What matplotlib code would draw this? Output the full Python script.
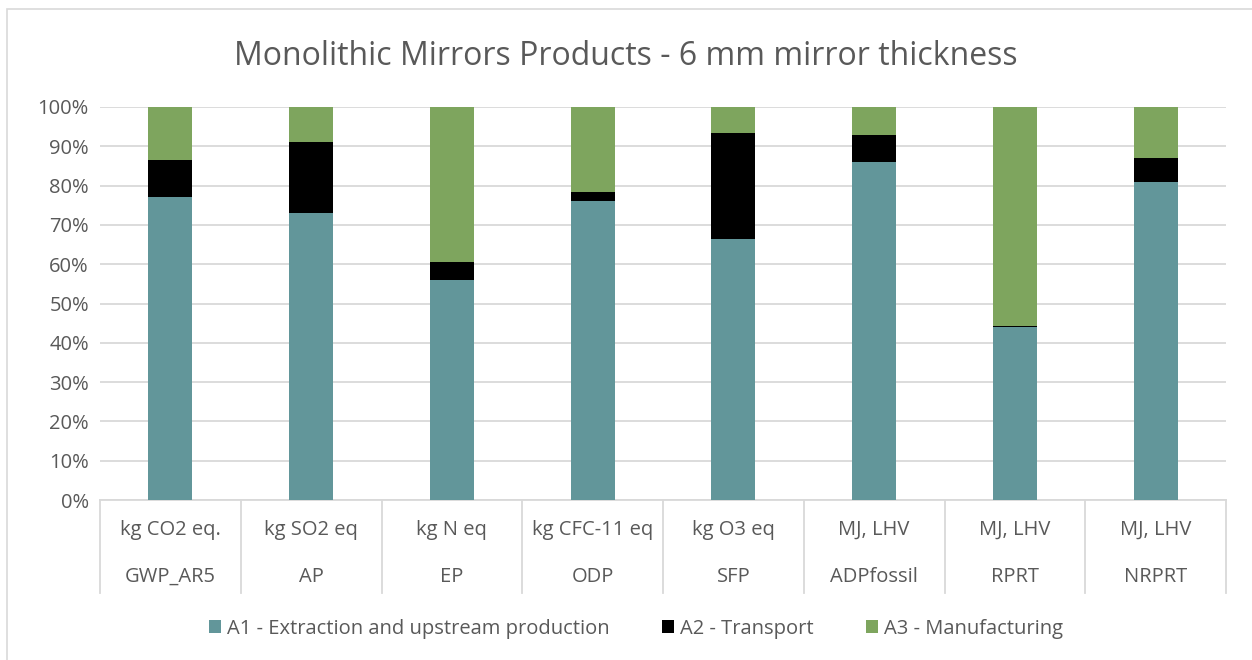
import numpy as np
import matplotlib
matplotlib.use("Agg")
import matplotlib.pyplot as plt
from matplotlib.patches import Rectangle

indicators = ["GWP_AR5", "AP", "EP", "ODP", "SFP", "ADPfossil", "RPRT", "NRPRT"]
units = ["kg CO2 eq.", "kg SO2 eq", "kg N eq", "kg CFC-11 eq", "kg O3 eq",
         "MJ, LHV", "MJ, LHV", "MJ, LHV"]
a1 = [77.0, 73.0, 56.0, 76.0, 66.5, 86.0, 44.0, 81.0]
a2 = [9.5, 18.0, 4.5, 2.3, 27.0, 7.0, 0.2, 6.0]
a3 = [13.5, 9.0, 39.5, 21.7, 6.5, 7.0, 55.8, 13.0]
series = ["A1 - Extraction and upstream production", "A2 - Transport", "A3 - Manufacturing"]
colors = ["#62969A", "#000000", "#7EA55E"]

plt.rcParams["font.family"] = ["Open Sans", "DejaVu Sans"]
txt = "#595959"
fs = 14.5

fig = plt.figure(figsize=(12.52, 6.6), dpi=100)
# chart frame (only left/top edges fall inside the picture)
fig.patches.append(Rectangle((7 / 1252, -0.05), 1.1, 1 - 9 / 660 + 0.05,
                             transform=fig.transFigure, fill=False,
                             edgecolor="#D9D9D9", lw=1.2))
ax = fig.add_axes([100 / 1252, 1 - 500 / 660, 1126 / 1252, 393 / 660])

x = np.arange(len(indicators))
bottom = np.zeros(len(x))
for vals, name, c in zip([a1, a2, a3], series, colors):
    ax.bar(x, vals, 0.313, bottom=bottom, color=c, label=name, zorder=3)
    bottom += np.array(vals)

ax.set_xlim(-0.5, len(x) - 0.5)
ax.set_ylim(0, 100)
ax.set_yticks(np.arange(0, 101, 10))
ax.set_yticklabels([f"{v}%" for v in range(0, 101, 10)], color=txt, fontsize=fs)
ax.tick_params(axis="y", length=0, pad=8)
ax.set_xticks([])
ax.grid(axis="y", color="#D9D9D9", lw=1.3, zorder=0)
for s in ["left", "right", "top"]:
    ax.spines[s].set_visible(False)
ax.spines["bottom"].set_color("#D9D9D9")
ax.spines["bottom"].set_linewidth(1.3)

# two-level category axis
trans = ax.get_xaxis_transform()
for b in np.arange(-0.5, len(x), 1.0):
    ax.plot([b, b], [0, -0.237], transform=trans, color="#D9D9D9", lw=1.3, clip_on=False)
for xi, u, ind in zip(x, units, indicators):
    ax.text(xi, -0.076, u, transform=trans, ha="center", va="center", color=txt, fontsize=fs)
    ax.text(xi, -0.196, ind, transform=trans, ha="center", va="center", color=txt, fontsize=fs)

fig.suptitle("Monolithic Mirrors Products - 6 mm mirror thickness", y=0.915,
             va="center", fontsize=23, color=txt)
fig.legend(loc="center", bbox_to_anchor=(0.508, 0.047), ncol=3, frameon=False,
           fontsize=fs, labelcolor=txt, handlelength=0.6, handleheight=0.6,
           handletextpad=0.3, columnspacing=2.6)

fig.savefig("out.png", dpi=100)
